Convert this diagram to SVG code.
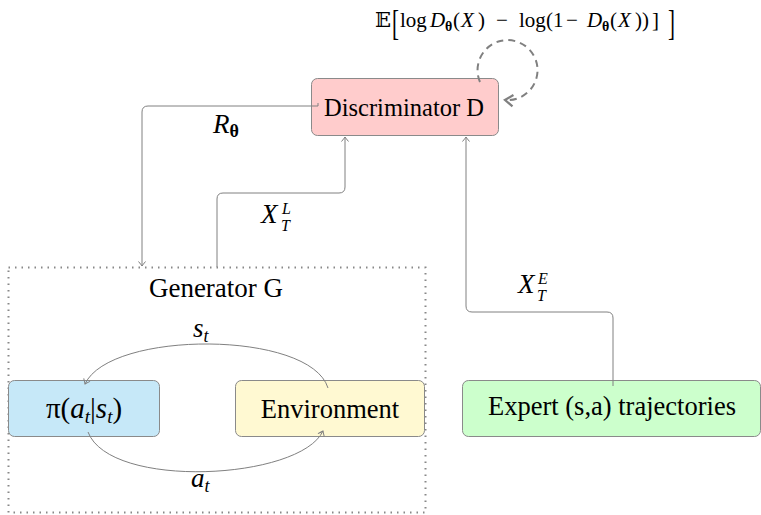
<svg xmlns="http://www.w3.org/2000/svg" width="761" height="515" viewBox="0 0 761 515">
<defs>
<style>
.box{stroke:#8a8a8a;stroke-width:1}
.t{font-family:'Liberation Serif','Times New Roman',Times,'DejaVu Serif',serif;fill:#000}
.m{font-style:italic}
.b{font-weight:bold;font-style:normal}
.c{fill:none;stroke:#808080;stroke-width:1}
</style>
<marker id="ar" markerWidth="10" markerHeight="10" refX="0" refY="0" viewBox="-6 -5 8 10" orient="auto" markerUnits="userSpaceOnUse">
<path d="M-4.5,-3.5 Q-1.5,-1 0,0 Q-1.5,1 -4.5,3.5" fill="none" stroke="#808080" stroke-width="1"/>
</marker>
<marker id="ard" markerWidth="16" markerHeight="16" refX="0" refY="0" viewBox="-9 -7 11 14" orient="auto" markerUnits="userSpaceOnUse">
<path d="M-7,-5 L0,0 L-7,5" fill="none" stroke="#808080" stroke-width="2"/>
</marker>
</defs>
<rect width="761" height="515" fill="#fff"/>

<g id="generator">
<rect x="8.5" y="267.5" width="417" height="245" fill="none" stroke="#888" stroke-width="2" stroke-dasharray="1.5,5"/>
<text class="t" x="216" y="297" font-size="27" text-anchor="middle">Generator G</text>
</g>

<g id="discriminator">
<rect class="box" x="311.5" y="78.5" width="187" height="57" rx="6" fill="#ffcccc"/>
<text class="t" x="404" y="116" font-size="24.5" text-anchor="middle">Discriminator D</text>
</g>

<g id="expert">
<rect class="box" x="462.5" y="380.5" width="298" height="56" rx="6" fill="#ccffcc"/>
<text class="t" x="612" y="415" font-size="26.5" text-anchor="middle">Expert (s,a) trajectories</text>
</g>

<g id="policy">
<rect class="box" x="8.5" y="380.5" width="151" height="56" rx="6" fill="#c6e8f8"/>
<text class="t" x="84" y="418" font-size="29" text-anchor="middle">π(<tspan class="m">a</tspan><tspan class="m" font-size="19" dy="5">t</tspan><tspan dy="-5">|</tspan><tspan class="m">s</tspan><tspan class="m" font-size="19" dy="5">t</tspan><tspan dy="-5">)</tspan></text>
</g>

<g id="environment">
<rect class="box" x="235.5" y="380.5" width="189" height="56" rx="6" fill="#fff9d2"/>
<text class="t" x="330" y="418" font-size="26.5" text-anchor="middle">Environment</text>
</g>

<g id="connectors">
<path class="c" d="M318,103 L318,106 L311,106 M311,106 L148,106 Q142,106 142,112 L142,266" marker-end="url(#ar)"/>
<path class="c" d="M217,267 L217,199 Q217,193 223,193 L339,193 Q345,193 345,187 L345,137" marker-end="url(#ar)"/>
<path class="c" d="M613,386 L613,318 Q613,312 607,312 L472,312 Q466,312 466,306 L466,137" marker-end="url(#ar)"/>
<path class="c" d="M328,388 C310,330 110,330 85,384" marker-end="url(#ar)"/>
<path class="c" d="M88,432 C110,490 300,480 323,431" marker-end="url(#ar)"/>
<path d="M480,82 A30,30 0 1 1 505,100" fill="none" stroke="#808080" stroke-width="2" stroke-dasharray="7,5" marker-end="url(#ard)"/>
</g>

<g id="labels">
<text class="t m" x="213" y="133" font-size="27">R<tspan class="b" font-size="18" dy="4">θ</tspan></text>
<text class="t m" x="261" y="223" font-size="27">X<tspan font-size="16" x="282" y="214">L</tspan><tspan font-size="16" x="281" y="231">T</tspan></text>
<text class="t m" x="518" y="293" font-size="27">X<tspan font-size="16" x="538" y="284">E</tspan><tspan font-size="16" x="537" y="301">T</tspan></text>
<text class="t m" x="193" y="337" font-size="27">s<tspan font-size="18" dy="5">t</tspan></text>
<text class="t m" x="191" y="487" font-size="27">a<tspan font-size="18" dy="5">t</tspan></text>
<g id="formula">
<text class="t" y="27" font-size="21"><tspan x="375">𝔼</tspan><tspan x="400">log</tspan><tspan class="m" x="430">D</tspan><tspan class="b" x="445" y="31" font-size="14">θ</tspan><tspan x="453" y="27">(</tspan><tspan class="m" x="461">X</tspan><tspan x="478">)</tspan><tspan x="496">−</tspan><tspan x="519">log</tspan><tspan x="546">(</tspan><tspan x="553">1</tspan><tspan x="566">−</tspan><tspan class="m" x="587">D</tspan><tspan class="b" x="602" y="31" font-size="14">θ</tspan><tspan x="610" y="27">(</tspan><tspan class="m" x="618">X</tspan><tspan x="635">))</tspan><tspan x="652">]</tspan></text>
<text class="t" font-size="21" transform="translate(392,35) scale(1,1.7)">[</text>
<text class="t" font-size="21" transform="translate(668,35) scale(1,1.7)">]</text>
</g>
</g>
</svg>
